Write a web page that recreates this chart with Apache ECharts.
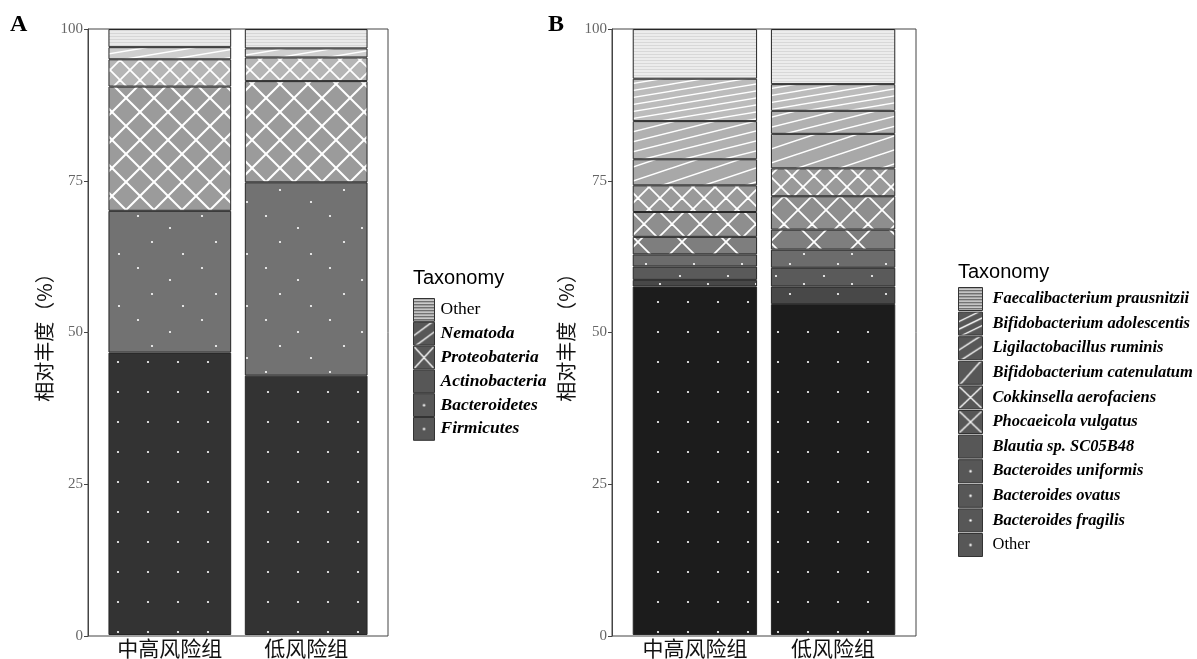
<!DOCTYPE html>
<html><head><meta charset="utf-8">
<script src="https://cdn.jsdelivr.net/npm/echarts@6/dist/echarts.min.js"></script>
<style>html,body{margin:0;padding:0;background:#fff}#c{width:1197px;height:659px}</style>
</head><body><div id="c"></div>
<script>
// ---------- data ----------
const groups = ['中高风险组', '低风险组'];
const yTicks = [0, 25, 50, 75, 100];
// Panel A (phylum level), listed bottom -> top of the stack
const firmicutes     = [46.6, 42.8];
const bacteroidetes  = [23.4, 31.9];
const actinobacteria = [20.5, 16.7];
const proteobateria  = [4.5, 3.9];
const nematoda       = [2.0, 1.5];
const otherA         = [3.0, 3.2];
// Panel B (species level), listed bottom -> top of the stack
const otherB          = [57.5, 54.6];
const bFragilis       = [1.1, 2.9];
const bOvatus         = [2.2, 3.1];
const bUniformis      = [2.0, 3.0];
const blautia         = [2.9, 3.3];
const pVulgatus       = [4.1, 5.5];
const cAerofaciens    = [4.4, 4.6];
const bCatenulatum    = [4.3, 5.7];
const lRuminis        = [6.3, 3.8];
const bAdolescentis   = [7.0, 4.4];
const fPrausnitzii    = [8.2, 9.1];

// ---------- pattern helpers (styles) ----------
function tile(w, h, bg, draw) {
  const c = document.createElement('canvas'); c.width = w; c.height = h;
  const g = c.getContext('2d');
  g.fillStyle = bg; g.fillRect(0, 0, w, h);
  g.strokeStyle = '#fff'; g.fillStyle = '#fff';
  if (draw) draw(g, w, h);
  return { image: c, repeat: 'repeat' };
}
const hlines = (bg, gap, lc) => tile(8, gap, bg, (g, w) => { g.fillStyle = lc; g.fillRect(0, 0, w, 1); });
const diag = (bg, d, W, lw) => tile(W, d, bg, g => {
  g.lineWidth = lw;
  for (let i = -1; i <= 2; i++) { g.beginPath(); g.moveTo(0, i * d); g.lineTo(W, (i - 1) * d); g.stroke(); }
});
const cross = (bg, S, lw) => tile(S, S, bg, g => {
  g.lineWidth = lw;
  for (let k = -1; k <= 1; k++) {
    g.beginPath(); g.moveTo(k * S, 0); g.lineTo(k * S + S, S); g.stroke();
    g.beginPath(); g.moveTo(k * S + S, 0); g.lineTo(k * S, S); g.stroke();
  }
});
const dots = (bg, w, h, pts, r) => tile(w, h, bg, g => {
  pts.forEach(p => { g.beginPath(); g.arc(p[0], p[1], r, 0, Math.PI * 2); g.fill(); });
});
// legend key tiles (anchored at key's top-left)
const KEY = '#575757';
const keyPlain = (w, h) => tile(w, h, KEY);
const keyH = (w, h, gap) => tile(w, h, KEY, g => { for (let y = 1; y < h; y += gap) g.fillRect(0, y, w, 1.3); });
const keyDiag = (w, h, n, lw) => tile(w, h, KEY, g => {
  g.lineWidth = lw;
  for (let i = 0; i < n; i++) {
    const y0 = h * (i + 1) / n + 2;
    g.beginPath(); g.moveTo(0, y0); g.lineTo(w, y0 - h / n - 4); g.stroke();
  }
});
const keyX = (w, h) => tile(w, h, KEY, g => {
  g.lineWidth = 1.3;
  g.beginPath(); g.moveTo(1, 1); g.lineTo(w - 1, h - 1); g.moveTo(w - 1, 1); g.lineTo(1, h - 1); g.stroke();
});
const keyDot = (w, h) => tile(w, h, KEY, g => { g.beginPath(); g.arc(w / 2, h / 2, 1.2, 0, Math.PI * 2); g.fill(); });

const grid30 = [[28, 2]];
const scatterA = [[10, 8], [42, 20], [24, 34], [55, 46]];
const scatterB = [[8, 6], [36, 14], [22, 24]];

// series definitions: [name, values, barFill, legendKey, italic]
const KA = [21, 23], KB = [24, 23];
const defsA = [
  ['Firmicutes', firmicutes, dots('#333333', 30, 30, grid30, 1.1), keyDot(...KA), true],
  ['Bacteroidetes', bacteroidetes, dots('#727272', 64, 52, scatterA, 1.1), keyDot(...KA), true],
  ['Actinobacteria', actinobacteria, cross('#9b9b9b', 28, 2), keyPlain(...KA), true],
  ['Proteobateria', proteobateria, cross('#b5b5b5', 20, 1.8), keyX(...KA), true],
  ['Nematoda', nematoda, diag('#cfcfcf', 8, 48, 1.4), keyDiag(KA[0], KA[1], 2, 1.4), true],
  ['Other', otherA, hlines('#eaeaea', 3, '#d6d6d6'), keyH(KA[0], KA[1], 3), false]
];
const defsB = [
  ['Other', otherB, dots('#1c1c1c', 30, 30, grid30, 1.1), keyDot(...KB), false],
  ['Bacteroides fragilis', bFragilis, dots('#484848', 48, 30, scatterB, 1.1), keyDot(...KB), true],
  ['Bacteroides ovatus', bOvatus, dots('#5a5a5a', 48, 30, scatterB, 1.1), keyDot(...KB), true],
  ['Bacteroides uniformis', bUniformis, dots('#6c6c6c', 48, 30, scatterB, 1.1), keyDot(...KB), true],
  ['Blautia sp. SC05B48', blautia, cross('#7e7e7e', 44, 1.8), keyPlain(...KB), true],
  ['Phocaeicola vulgatus', pVulgatus, cross('#8e8e8e', 28, 1.8), keyX(...KB), true],
  ['Cokkinsella aerofaciens', cAerofaciens, cross('#9a9a9a', 22, 1.8), keyX(...KB), true],
  ['Bifidobacterium catenulatum', bCatenulatum, diag('#a8a8a8', 14, 42, 1.5), keyDiag(KB[0], KB[1], 1, 1.4), true],
  ['Ligilactobacillus ruminis', lRuminis, diag('#b1b1b1', 10, 40, 1.4), keyDiag(KB[0], KB[1], 2, 1.4), true],
  ['Bifidobacterium adolescentis', bAdolescentis, diag('#bcbcbc', 7, 42, 1.3), keyDiag(KB[0], KB[1], 3, 1.3), true],
  ['Faecalibacterium prausnitzii', fPrausnitzii, hlines('#ececec', 3, '#d8d8d8'), keyH(KB[0], KB[1], 3), true]
];

const serif = 'Liberation Serif';
const cjk = 'Noto Sans CJK SC';

// frame rectangles of the two panels, and the discrete-scale expansion (ggplot: 0.6 units each side, bars 0.9 wide)
const frameA = { left: 88, top: 29, width: 300, height: 607 };
const frameB = { left: 612, top: 29, width: 304, height: 607 };
function barGrid(f) {
  const unit = f.width / 2.2;
  return { left: f.left + 0.1 * unit, top: f.top, width: 2 * unit, height: f.height };
}

function makeSeries(defs, idx, stack) {
  return defs.map(d => ({
    type: 'bar', name: d[0], stack: stack, xAxisIndex: idx, yAxisIndex: idx,
    barWidth: '90%',
    data: d[1],
    itemStyle: { color: d[2], borderColor: '#262626', borderWidth: 1 },
    emphasis: { disabled: true }
  }));
}
function makeLegend(defs, left, top, kw, kh, gap, textPad, fs) {
  return {
    orient: 'vertical', left: left, top: top, itemWidth: kw, itemHeight: kh, itemGap: gap,
    icon: 'rect', selectedMode: false, padding: 0,
    textStyle: { fontFamily: serif, fontSize: fs, fontWeight: 'bold', fontStyle: 'italic', color: '#000',
      padding: [0, 0, 0, textPad] },
    data: defs.slice().reverse().map(d => ({
      name: d[0],
      itemStyle: { color: d[3], borderColor: '#333', borderWidth: 1 },
      textStyle: d[4] ? {} : { fontWeight: 'normal', fontStyle: 'normal' }
    }))
  };
}
function frameX(idx) { return { type: 'value', gridIndex: idx, min: 0, max: 1, show: false }; }
function frameY(idx, gap) {
  return {
    type: 'value', gridIndex: idx, min: 0, max: 100, interval: 25,
    splitLine: { show: false },
    axisLine: { show: true, lineStyle: { color: '#444', width: 1 } },
    axisTick: { show: true, length: 4, lineStyle: { color: '#444' } },
    axisLabel: { fontFamily: serif, fontSize: 15, color: '#666', margin: 5, customValues: yTicks },
    name: '相对丰度（%）', nameLocation: 'middle', nameGap: gap,
    nameTextStyle: { fontFamily: cjk, fontSize: 20, color: '#111' }
  };
}
function barX(idx) {
  return {
    type: 'category', gridIndex: idx, data: groups,
    axisTick: { show: false }, axisLine: { show: false }, splitLine: { show: false },
    axisLabel: { interval: 0, fontFamily: cjk, fontSize: 21, color: '#111', margin: 3 }
  };
}
function barY(idx) { return { type: 'value', gridIndex: idx, min: 0, max: 100, show: false }; }

const chart = echarts.init(document.getElementById('c'));
chart.setOption({
  animation: false,
  backgroundColor: '#fff',
  title: [
    { text: 'A', left: 5, top: 8, textStyle: { fontFamily: serif, fontSize: 24, fontWeight: 'bold', color: '#000' } },
    { text: 'B', left: 543, top: 8, textStyle: { fontFamily: serif, fontSize: 24, fontWeight: 'bold', color: '#000' } },
    { text: 'Taxonomy', left: 408, top: 263, textStyle: { fontFamily: 'Liberation Sans', fontSize: 20, fontWeight: 'normal', color: '#000' } },
    { text: 'Taxonomy', left: 953, top: 257, textStyle: { fontFamily: 'Liberation Sans', fontSize: 20, fontWeight: 'normal', color: '#000' } }
  ],
  grid: [
    Object.assign({ show: true, borderColor: '#444', borderWidth: 1, backgroundColor: 'transparent' }, frameA),
    barGrid(frameA),
    Object.assign({ show: true, borderColor: '#444', borderWidth: 1, backgroundColor: 'transparent' }, frameB),
    barGrid(frameB)
  ],
  xAxis: [frameX(0), barX(1), frameX(2), barX(3)],
  yAxis: [frameY(0, 34), barY(1), frameY(2, 36), barY(3)],
  legend: [makeLegend(defsA, 413, 298, KA[0], 22.8, 0, 1, 17.5), makeLegend(defsB, 958, 287, KB[0], 23, 0.6, 5, 16.5)],
  series: [...makeSeries(defsA, 1, 'A'), ...makeSeries(defsB, 3, 'B')]
});
</script></body></html>
